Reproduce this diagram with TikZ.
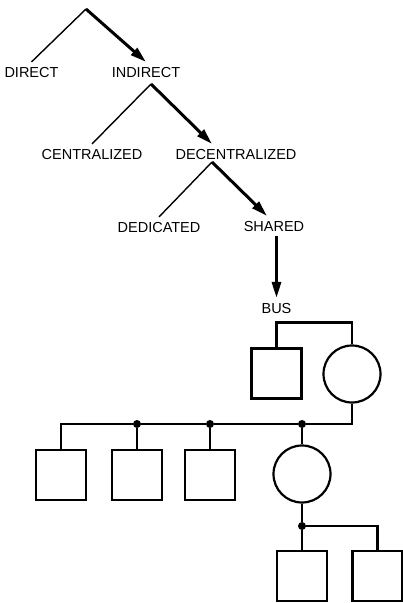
\documentclass[tikz,border=0pt]{standalone}
\usepackage{fontspec}
\setmainfont{Liberation Sans}
\usetikzlibrary{arrows.meta}
\begin{document}
\begin{tikzpicture}[x = 1pt, y = -1pt,
  lbl/.style = {font = \fontsize{14.5}{16}\selectfont, inner sep = 4.8pt, text depth = 0pt},
  thinline/.style = {line width = 1.4pt},
  bigarrow/.style = {line width = 3pt, -{Triangle[length = 16pt, width = 9pt]}},
  box/.style = {draw, line width = 2.2pt, minimum size = 50pt, inner sep = 0pt},
  ring/.style = {draw, circle, line width = 2.2pt, minimum size = 57pt, inner sep = 0pt},
  wire/.style = {line width = 2.2pt},
  dot/.style = {circle, fill, minimum size = 8pt, inner sep = 0pt}]
\useasboundingbox (0,0) rectangle (403,603);
%% the tree
\coordinate (root) at (86,9);
\node[lbl] (direct) at (31.5,72) {DIRECT};
\node[lbl] (indirect) at (146,72) {INDIRECT};
\coordinate (inapex) at (151,84);
\node[lbl] (central) at (92,154) {CENTRALIZED};
\node[lbl] (decentral) at (236,154) {DECENTRALIZED};
\coordinate (deapex) at (212,162);
\node[lbl] (dedicated) at (159,227) {DEDICATED};
\node[lbl] (shared) at (274,226) {SHARED};
\node[lbl] (bus) at (276.5,308) {BUS};
\draw[thinline] (root) -- (direct.north);
\draw[bigarrow] (root) -- (indirect.north);
\draw[thinline] (inapex) -- (central.north);
\draw[bigarrow] (inapex) -- (decentral.north -| deapex);
\draw[thinline] (deapex) -- (dedicated.north);
\draw[bigarrow] (deapex) -- ([xshift = -7pt]shared.north);
\draw[bigarrow] (shared.south -| bus.north) -- (bus.north);
%% the bus
\node[box] (sqtop) at (276.5,373.5) {};
\node[ring] (ctop) at (352,374) {};
\draw[wire] (sqtop.north) -- ++(0,-25) -| (ctop.north);
\foreach \n/\x in {A/61,B/137,C/210}{
  \node[box] (sq\n) at (\x,475) {};
}
\node[dot] (dB) at (137,424) {};
\node[dot] (dC) at (210,424) {};
\node[dot] (dR) at (302,424) {};
\node[ring] (cmid) at (302,474) {};
\draw[wire] (ctop.south) |- (dR) -- (dC) -- (dB) -| (sqA.north);
\draw[wire] (dB) -- (sqB.north);
\draw[wire] (dC) -- (sqC.north);
\draw[wire] (dR) -- (cmid.north);
\node[dot] (dL) at (302,526) {};
\node[box] (sqD) at (302,576) {};
\node[box] (sqE) at (377.5,576) {};
\draw[wire] (cmid.south) -- (dL) -- (sqD.north);
\draw[wire] (dL) -| (sqE.north);
\end{tikzpicture}
\end{document}
